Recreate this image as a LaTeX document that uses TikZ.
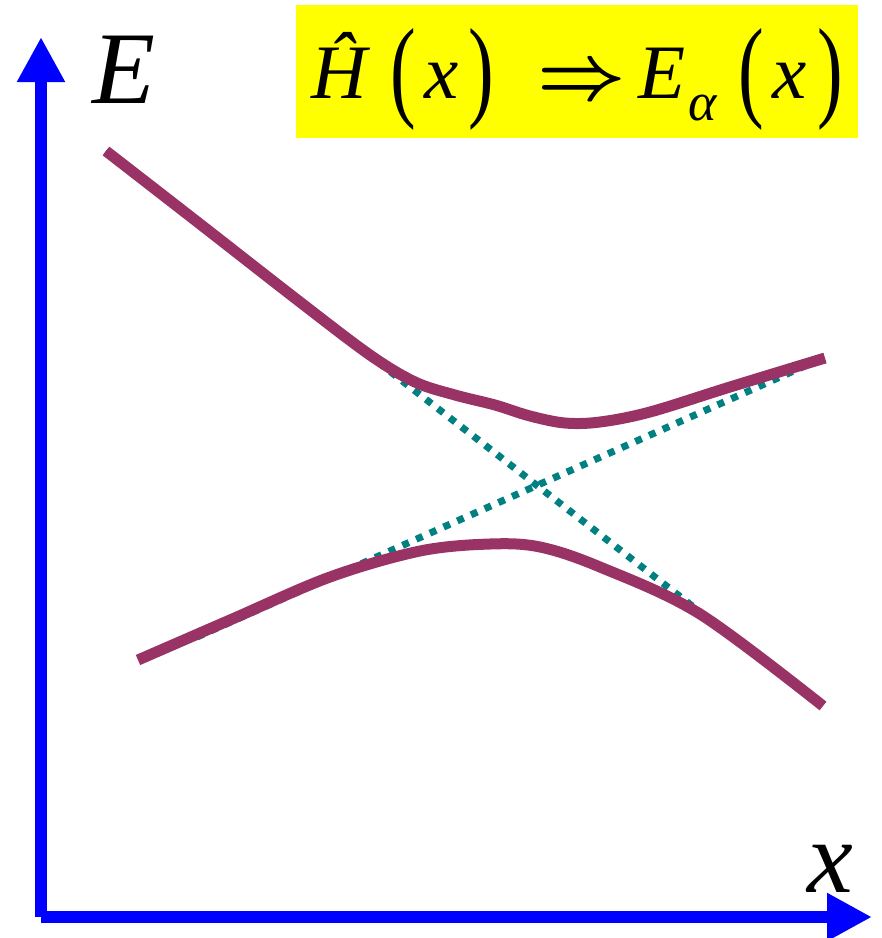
\documentclass[tikz,border=0pt]{standalone}
\usepackage{fontspec}
\setmainfont{Liberation Serif}
\usepackage{graphicx}
\usetikzlibrary{arrows.meta}
\definecolor{curvepurple}{RGB}{153,51,102}
\definecolor{dotteal}{RGB}{0,128,128}
\definecolor{axisblue}{RGB}{0,0,255}
\definecolor{boxyellow}{RGB}{255,255,0}
\newcommand{\tallpar}[1]{\raisebox{-8pt}{\scalebox{1}[1.46]{#1}}}
\newcommand{\bigimplies}{\scalebox{7.7}{\fontsize{10}{10}\selectfont\boldmath$\Rightarrow$}}
\begin{document}
\begin{tikzpicture}[x=1pt,y=-1pt,
  axis/.style={draw=axisblue, line width=12pt, line cap=butt, -{Triangle[length=45pt,width=45pt]}},
  level/.style={draw=curvepurple, line width=11pt, line cap=butt, line join=round},
  diab/.style={draw=dotteal, line width=7pt, dash pattern=on 7pt off 8pt},
  lab/.style={inner sep=0pt, anchor=base west, font=\fontsize{103}{103}\selectfont\itshape}]
\useasboundingbox (0,0) rectangle (882,938);
% axes
\coordinate (O) at (41,917);
\coordinate (ytip) at (41,37);
\coordinate (xtip) at (872,917);
\draw[axis] (O) -- (ytip);
\draw[axis] (O) -- (xtip);
\node[lab] (Elab) at (92,103) {E};
\node[lab] (xlab) at (807,892) {x};
% formula box
\node[fill=boxyellow, inner sep=0pt, minimum width=562pt, minimum height=133pt, anchor=north west] (box) at (296,5) {};
\node[inner sep=0pt, anchor=base west, font=\fontsize{77}{77}\selectfont] (formula) at (311,98)
 {\makebox[79pt][l]{\itshape Ĥ}\makebox[34pt][l]{\tallpar{(}}\makebox[44pt][l]{\itshape x}\makebox[69pt][l]{\tallpar{)}}\makebox[101pt][l]{\bigimplies}\makebox[50pt][l]{\itshape E}\makebox[50pt][l]{\raisebox{-22pt}{\fontsize{54}{54}\selectfont\itshape α}}\makebox[34pt][l]{\tallpar{(}}\makebox[45pt][l]{\itshape x}\tallpar{)}};
% diabatic dotted lines
\coordinate (d1a) at (106,151);
\coordinate (d1b) at (700,612);
\coordinate (d2a) at (197,637);
\coordinate (d2b) at (825,357);
\draw[diab] (d1a) -- (d1b);
\draw[diab] (d2a) -- (d2b);
% adiabatic curves
\draw[level] plot[smooth, tension=0.55] coordinates {(106,151) (200,224) (300,302) (370,355) (415,382) (455,395) (495,405) (530,416) (565,423) (600,422) (650,412) (730,387) (825,358)};
\draw[level] plot[smooth, tension=0.55] coordinates {(138,660) (230,620) (330,577) (420,551) (490,544) (540,547) (600,567) (700,614) (823,706)};
\end{tikzpicture}
\end{document}
